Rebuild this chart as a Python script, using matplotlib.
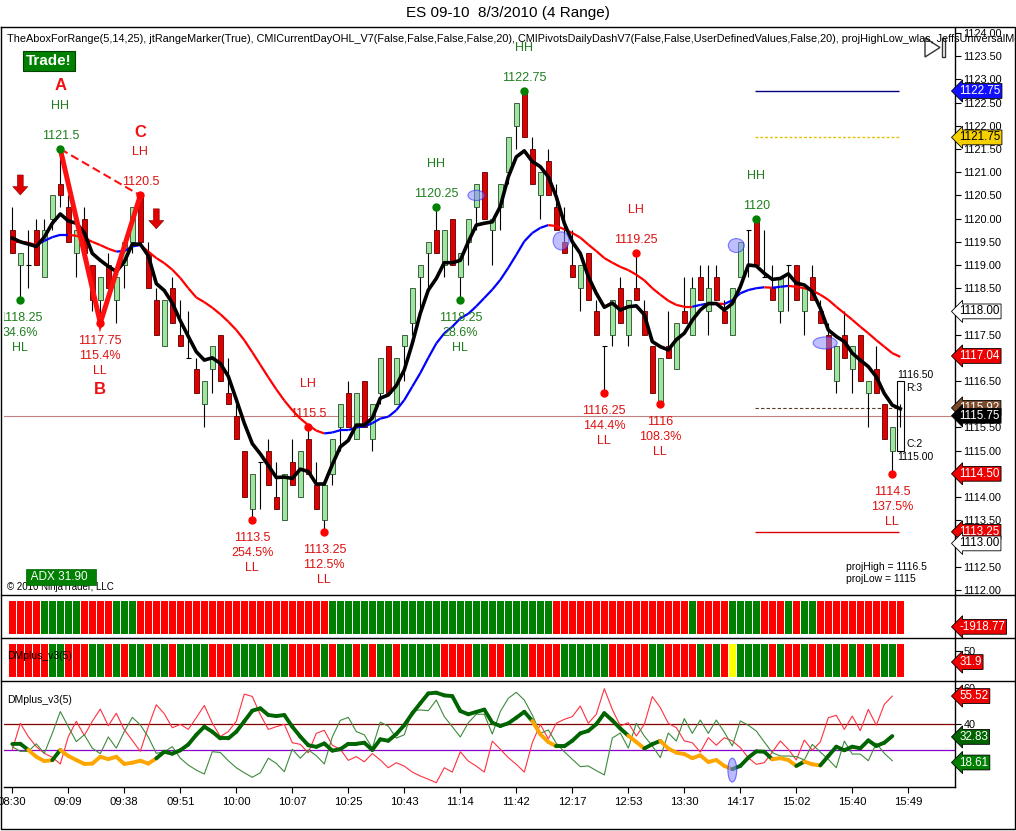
import numpy as np
import matplotlib
matplotlib.use("Agg")
import matplotlib.pyplot as plt
from matplotlib.patches import Rectangle, Ellipse, Polygon
from matplotlib.collections import LineCollection
from matplotlib.transforms import blended_transform_factory
from matplotlib.lines import Line2D

plt.rcParams['font.family'] = ['Liberation Sans', 'DejaVu Sans']

# ---------------- data ----------------
opens = [1119.75,1119.0,1119.0,1119.75,1118.75,1120.0,1120.75,1120.25,1119.25,1120.0,
         1119.0,1118.25,1119.0,1118.25,1119.0,1119.5,1120.5,1119.25,1118.25,1117.25,
         1118.5,1117.5,1117.0,1116.75,1116.0,1116.75,1117.5,1116.25,1115.75,1115.0,
         1113.75,1114.75,1115.0,1114.0,1113.5,1114.75,1114.0,1115.25,1114.25,1113.5,
         1114.5,1115.5,1116.25,1115.25,1116.5,1115.25,1116.25,1117.25,1116.0,1117.25,
         1117.75,1118.75,1119.25,1119.75,1119.0,1120.0,1118.75,1119.5,1120.25,1121.0,
         1119.75,1120.25,1121.0,1122.0,1122.75,1121.5,1120.5,1121.25,1120.25,1119.5,
         1119.0,1118.5,1119.25,1118.0,1117.25,1117.5,1118.5,1117.5,1118.5,1118.0,
         1117.25,1116.0,1117.25,1116.75,1118.0,1117.5,1118.75,1118.0,1118.75,1118.0,
         1117.5,1118.75,1119.75,1120.0,1118.75,1118.5,1118.0,1119.0,1119.0,1118.0,
         1118.75,1118.0,1117.5,1116.5,1117.5,1116.75,1117.5,1116.25,1116.75,1116.0,
         1115.0,1115.75]
highs = [1120.25,1119.25,1119.75,1120.0,1120.0,1120.5,1121.5,1120.5,1119.75,1120.25,
         1119.0,1118.75,1119.25,1119.0,1119.5,1120.25,1120.5,1119.5,1118.5,1118.25,
         1118.75,1118.25,1118.0,1117.0,1116.5,1117.25,1117.5,1117.0,1116.0,1115.0,
         1114.5,1114.75,1115.25,1114.75,1114.5,1115.25,1115.0,1115.5,1114.75,1114.25,
         1115.25,1116.0,1116.5,1116.25,1116.5,1116.0,1117.0,1117.25,1117.0,1117.5,
         1118.5,1119.0,1119.5,1120.25,1119.75,1120.0,1119.25,1120.0,1120.75,1121.0,
         1120.0,1120.75,1121.75,1122.5,1122.75,1121.75,1121.0,1121.5,1120.75,1120.25,
         1119.75,1119.0,1119.25,1118.25,1117.25,1118.25,1118.75,1118.25,1119.25,1118.25,
         1117.25,1117.0,1118.0,1117.75,1118.75,1118.75,1119.0,1119.0,1119.0,1118.25,
         1118.5,1119.5,1119.75,1120.0,1119.75,1119.0,1118.75,1119.0,1119.0,1118.5,
         1119.0,1118.25,1117.75,1117.25,1118.0,1117.25,1117.5,1116.5,1117.25,1116.0,
         1115.5,1116.0]
lows = [1119.25,1118.25,1118.5,1119.0,1118.75,1119.75,1120.25,1119.5,1118.75,1119.25,
        1118.0,1117.75,1118.5,1117.75,1118.5,1119.25,1119.5,1118.5,1117.5,1117.25,
        1117.75,1117.25,1117.0,1116.25,1115.5,1116.25,1116.5,1116.0,1115.25,1114.0,
        1113.5,1113.75,1114.25,1113.75,1113.5,1114.25,1114.0,1114.5,1113.75,1113.25,
        1114.25,1115.0,1115.5,1115.25,1115.5,1115.0,1116.0,1116.25,1116.0,1116.5,
        1117.5,1118.0,1118.5,1119.25,1118.75,1119.0,1118.25,1119.0,1119.75,1120.0,
        1119.0,1119.75,1120.75,1121.5,1121.75,1120.75,1120.0,1120.5,1119.75,1119.25,
        1118.75,1118.0,1118.25,1117.5,1116.25,1117.25,1117.75,1117.25,1118.25,1117.5,
        1116.25,1116.0,1117.0,1116.75,1117.75,1117.5,1118.25,1117.5,1118.25,1117.75,
        1117.5,1118.75,1118.75,1119.0,1118.75,1118.25,1117.75,1118.0,1118.25,1117.5,
        1118.25,1117.75,1116.75,1116.25,1117.0,1116.25,1116.5,1115.5,1116.25,1115.25,
        1114.5,1115.5]
closes = [1119.25,1119.25,1119.0,1119.0,1119.75,1120.5,1120.5,1119.5,1119.75,1119.25,
          1118.25,1118.75,1118.5,1118.75,1119.5,1120.25,1119.5,1118.5,1117.5,1118.25,
          1117.75,1117.25,1117.0,1116.25,1116.5,1117.25,1116.5,1116.0,1115.25,1114.0,
          1114.5,1114.75,1114.25,1113.75,1114.5,1114.25,1115.0,1114.5,1113.75,1114.25,
          1115.25,1116.0,1115.5,1116.25,1115.5,1116.0,1117.0,1116.25,1117.0,1117.5,
          1118.5,1119.0,1119.5,1119.25,1119.75,1119.0,1119.25,1120.0,1120.75,1120.0,
          1120.0,1120.75,1121.75,1122.5,1121.75,1120.75,1121.0,1120.5,1119.75,1119.25,
          1118.75,1119.0,1118.25,1117.5,1117.25,1118.25,1117.75,1118.25,1118.25,1117.5,
          1116.25,1117.0,1117.0,1117.75,1117.75,1118.5,1118.25,1118.5,1118.25,1117.75,
          1118.5,1119.5,1119.75,1119.0,1118.75,1118.25,1118.75,1119.0,1118.25,1118.5,
          1118.25,1117.75,1116.75,1117.25,1117.0,1117.25,1116.5,1116.5,1116.25,1115.25,
          1115.5,1115.75]

fast_ma = [1119.58,1119.5,1119.45,1119.4,1119.6,1119.9,1120.1,1119.95,1119.9,1119.7,
           1119.25,1119.1,1118.97,1118.86,1119.07,1119.45,1119.45,1119.2,1118.6,1118.45,
           1118.18,1117.8,1117.46,1117.13,1116.95,1117.0,1116.88,1116.6,1116.1,1115.59,
           1115.15,1114.93,1114.68,1114.42,1114.43,1114.4,1114.6,1114.55,1114.28,1114.28,
           1114.7,1115.08,1115.22,1115.55,1115.55,1115.7,1116.13,1116.2,1116.4,1116.74,
           1117.31,1117.96,1118.46,1118.71,1119.05,1119.05,1119.1,1119.5,1119.86,1119.9,
           1119.93,1120.26,1120.9,1121.33,1121.46,1121.23,1121.12,1120.9,1120.47,1119.9,
           1119.5,1119.25,1118.75,1118.39,1118.09,1118.18,1118.03,1118.1,1118.12,1117.93,
           1117.35,1117.24,1117.17,1117.39,1117.53,1117.81,1118.03,1118.17,1118.17,1118.03,
           1118.17,1118.53,1119.0,1118.98,1118.82,1118.69,1118.71,1118.81,1118.61,1118.57,
           1118.43,1118.07,1117.6,1117.46,1117.35,1117.1,1116.95,1116.81,1116.59,1116.23,
           1115.98,1115.9]
slow_ma = [1119.5,1119.5,1119.48,1119.43,1119.52,1119.6,1119.65,1119.65,1119.63,1119.58,
           1119.5,1119.43,1119.35,1119.29,1119.3,1119.4,1119.43,1119.29,1119.15,1119.04,
           1118.9,1118.72,1118.5,1118.3,1118.2,1118.08,1117.94,1117.78,1117.6,1117.38,
           1117.12,1116.85,1116.58,1116.32,1116.08,1115.87,1115.69,1115.55,1115.43,1115.37,
           1115.39,1115.44,1115.44,1115.5,1115.52,1115.59,1115.69,1115.73,1115.87,1116.09,
           1116.38,1116.67,1117.0,1117.31,1117.53,1117.67,1117.85,1117.95,1118.11,1118.29,
           1118.47,1118.68,1118.94,1119.22,1119.51,1119.69,1119.8,1119.86,1119.84,1119.77,
           1119.69,1119.59,1119.44,1119.3,1119.15,1119.05,1118.96,1118.89,1118.79,1118.67,
           1118.5,1118.36,1118.23,1118.14,1118.1,1118.1,1118.14,1118.17,1118.17,1118.16,
           1118.24,1118.39,1118.46,1118.5,1118.52,1118.51,1118.53,1118.55,1118.53,1118.5,
           1118.45,1118.36,1118.25,1118.1,1117.96,1117.82,1117.67,1117.53,1117.38,1117.24,
           1117.1,1117.02]

# oscillator (DMplus_v3)
adx = [28.9,29.0,25.6,21.8,19.4,19.9,25.6,22.2,20.0,17.8,18.0,21.8,20.5,21.8,17.8,18.5,
       19.6,18.0,20.9,24.6,23.5,25.4,28.6,34.0,38.5,35.7,32.0,32.0,35.7,41.5,47.4,48.7,
       45.0,44.4,45.0,38.5,33.0,28.2,27.3,29.2,25.2,26.0,29.0,29.0,29.6,25.6,31.5,30.7,
       34.4,39.4,45.9,51.5,57.0,57.4,55.9,55.5,47.2,45.4,46.7,48.0,40.7,38.9,40.4,43.5,
       46.8,41.7,34.3,30.0,27.6,27.6,30.7,34.8,36.2,39.9,46.0,42.0,37.5,33.5,30.0,26.4,
       28.8,30.6,26.4,24.1,23.3,21.0,22.6,18.9,20.0,16.7,14.9,16.7,21.3,24.8,24.6,20.4,
       21.0,20.0,16.7,19.1,17.6,17.0,22.2,27.4,25.4,27.4,26.5,30.9,27.8,29.6,33.3]
adx_orange = [3,4,5,7,8,9,10,11,12,13,14,15,16,17,18,66,67,68,78,79,
              82,83,84,85,86,87,88,89,90,96,97,98,100,101]
di_minus = [25.6,40.4,33.0,27.4,23.7,21.5,17.8,33.0,41.5,33.6,41.5,48.3,39.0,46.0,36.8,30.9,
            24.8,38.5,50.7,45.7,37.9,39.8,37.0,43.5,50.3,40.5,33.0,35.8,41.5,56.6,55.3,45.2,
            37.0,38.5,39.8,29.6,28.7,24.0,34.8,36.5,28.2,26.0,19.8,21.9,19.0,23.6,20.0,15.7,
            18.5,16.6,13.3,11.1,9.3,7.4,15.7,13.3,24.6,19.4,16.6,13.3,30.5,26.0,21.3,17.6,
            13.3,29.6,39.8,31.7,40.4,42.6,44.1,50.0,40.4,45.4,59.6,48.1,38.9,40.7,33.3,39.8,
            55.2,49.1,40.4,38.0,30.6,29.6,24.4,32.4,28.2,32.4,30.6,26.9,21.3,17.6,18.5,24.4,
            30.6,26.0,20.0,31.1,25.4,30.0,43.5,44.8,37.0,44.4,36.3,48.1,39.3,50.9,55.5]
di_plus = [27.4,24.8,24.8,29.0,23.7,34.8,46.9,38.5,30.2,34.0,26.6,23.5,32.8,26.6,35.8,43.7,
           39.5,32.8,23.7,24.6,27.4,21.0,17.2,14.4,12.2,24.6,24.2,19.6,15.7,12.9,10.4,12.9,
           21.0,18.1,13.5,26.0,21.0,25.6,22.4,17.8,32.8,42.0,43.7,35.8,34.0,26.6,41.0,38.8,
           32.2,34.0,47.4,47.8,47.4,53.3,44.1,38.5,32.8,40.7,45.4,45.4,34.4,46.9,54.3,57.6,
           53.3,45.0,34.8,36.7,29.3,24.6,20.4,16.3,16.7,14.1,11.7,32.2,35.0,26.6,40.4,33.3,
           27.8,21.3,35.0,30.5,43.0,34.8,42.2,34.8,42.2,35.5,27.8,41.7,39.3,36.1,30.0,24.1,
           22.2,22.2,21.9,20.0,28.7,24.4,20.4,15.7,30.5,23.3,23.3,19.6,29.3,23.7,19.6]

strip1_runs = ["RRRR", "GGGGG", "RRRR", "GGG", "RRRRRRRRRRRRRRRRRRRRRRRR",
               "GGGGGGGGGGGGGGGGGGGGGGGGGGGG", "RRRRRRRRRRRRRRRRR", "G", "RRRR",
               "GGGG", "RRR", "G", "R", "GG", "RRRRRRRRRRR"]
strip2_runs = ["RRRRR", "GG", "RRR", "GG", "R", "G", "R", "GG", "R", "GG", "R", "GGGG",
               "RRR", "GGGG", "R", "GG", "RRRR", "G", "R", "GG", "R", "G", "R", "GG", "R",
               "GGGGG", "RRRR", "GG", "RR", "GGG", "RRRR", "GGGGGG", "RRRRR", "GG", "RRRR",
               "G", "R", "G", "R", "Y", "GGGG", "R", "G", "RR", "G", "RR", "GG", "R", "G",
               "R", "G", "R", "GG", "R"]

time_labels = ["08:30", "09:09", "09:38", "09:51", "10:00", "10:07", "10:25", "10:43",
               "11:14", "11:42", "12:17", "12:53", "13:30", "14:17", "15:02", "15:40", "15:49"]
time_bars = [0, 7, 14, 21, 28, 35, 42, 49, 56, 63, 70, 77, 84, 91, 98, 105, 112]

# swing pivots
high_bars = [6, 16, 37, 53, 64, 78, 93]
high_prices = [1121.5, 1120.5, 1115.5, 1120.25, 1122.75, 1119.25, 1120.0]
high_texts = ["1121.5", "1120.5", "1115.5", "1120.25", "1122.75", "1119.25", "1120"]
high_tags = ["HH", "LH", "LH", "HH", "HH", "LH", "HH"]
low_bars = [1, 11, 30, 39, 56, 74, 81, 110]
low_prices = [1118.25, 1117.75, 1113.5, 1113.25, 1118.25, 1116.25, 1116.0, 1114.5]
low_texts = ["1118.25", "1117.75", "1113.5", "1113.25", "1118.25", "1116.25", "1116", "1114.5"]
low_pcts = ["34.6%", "115.4%", "254.5%", "112.5%", "28.6%", "144.4%", "108.3%", "137.5%"]
low_tags = ["HL", "LL", "LL", "LL", "HL", "LL", "LL", "LL"]

abc_bars = [6, 11, 16]
abc_prices = [1121.5, 1117.75, 1120.5]
abc_letters = ["A", "B", "C"]

arrow_bars = [1, 18]
arrow_tails = [1120.94, 1120.21]
arrow_tips = [1120.51, 1119.78]

oval_bars = [58, 68.6, 90.5, 101.6]
oval_prices = [1120.5, 1119.52, 1119.42, 1117.32]
oval_w = [2.1, 2.0, 2.0, 3.0]
oval_h = [0.22, 0.39, 0.30, 0.26]

proj_high, proj_low = 1116.5, 1115.0
level_start, level_end = 92.8, 110.8
level_blue, level_yellow, level_red, level_dash = 1122.75, 1121.75, 1113.25, 1115.92
last_price = 1115.75

price_tags = [(1122.75, "1122.75", "#1010ff", "white"),
              (1121.75, "1121.75", "#f5d000", "black"),
              (1118.00, "1118.00", "white", "black"),
              (1117.04, "1117.04", "#ee0000", "white"),
              (1115.92, "1115.92", "#7a4a2a", "white"),
              (1115.75, "1115.75", "black", "white"),
              (1114.50, "1114.50", "#ee0000", "white"),
              (1113.25, "1113.25", "#ee0000", "white"),
              (1113.00, "1113.00", "white", "black")]
hidden_ticks = [1113.0, 1114.5, 1116.0, 1117.0, 1118.0]
osc_tags = [(55.52, "55.52", "#ee0000", "white"),
            (32.83, "32.83", "#006400", "white"),
            (18.61, "18.61", "#008000", "white")]

# ---------------- layout ----------------
W, H = 1016, 831
fig = plt.figure(figsize=(W / 100, H / 100), dpi=100)
fig.patch.set_facecolor("white")

def rect(x0, y0, x1, y1):
    return [x0 / W, 1 - y1 / H, (x1 - x0) / W, (y1 - y0) / H]

def fx(x):
    return x / W

def fy(y):
    return 1 - y / H

PX_PER_PT = 46.4
XL = ((4 - 12.3) / 8, (955 - 12.3) / 8)

ax = fig.add_axes(rect(4, 28, 955, 595))
ax1 = fig.add_axes(rect(4, 595, 955, 638))
ax2 = fig.add_axes(rect(4, 638, 955, 681))
ax3 = fig.add_axes(rect(4, 681, 955, 787))

for a in (ax, ax1, ax2, ax3):
    a.set_xlim(*XL)
    a.set_facecolor("white")
    for s in ("left", "top", "bottom"):
        a.spines[s].set_visible(False)
    a.spines["right"].set_linewidth(1.0)
    a.yaxis.tick_right()
    a.tick_params(axis="y", length=4, width=0.8, pad=2, labelsize=7.8, direction="out")
    a.set_xticks([])

ax.set_ylim(1124 - (595 - 33) / PX_PER_PT, 1124 + (33 - 28) / PX_PER_PT)
ticks = np.arange(1112.0, 1124.01, 0.5)
ax.set_yticks(ticks)
ax.set_yticklabels(["" if any(abs(t - h) < 1e-6 for h in hidden_ticks) else f"{t:.2f}"
                    for t in ticks])

n = len(closes)
xs = np.arange(n)
GREEN_TXT = "#1f7f1f"
RED_TXT = "#dd1111"

# candles
for i in range(n):
    o, h, l, c = opens[i], highs[i], lows[i], closes[i]
    if i == n - 1:
        ax.vlines(i, l, h, color="black", lw=0.8, zorder=3)
        ax.hlines(c, i - 0.35, i, color="black", lw=0.8, zorder=3)
        continue
    ax.vlines(i, l, h, color="black", lw=0.8, zorder=3)
    if o == c:
        ax.hlines(o, i - 0.35, i + 0.35, color="black", lw=0.8, zorder=3)
    else:
        up = c > o
        ax.add_patch(Rectangle((i - 0.34, min(o, c)), 0.68, abs(c - o),
                               fc="#9ee69e" if up else "#e00000",
                               ec="#2a4a2a" if up else "#5a0000", lw=0.6, zorder=4))

# moving averages
ax.plot(xs, fast_ma, color="black", lw=2.6, zorder=6, solid_joinstyle="round")
segs, cols = [], []
cur = "#ff0000"
for i in range(1, n):
    if slow_ma[i] > slow_ma[i - 1]:
        cur = "#0000ff"
    elif slow_ma[i] < slow_ma[i - 1]:
        cur = "#ff0000"
    segs.append([(i - 1, slow_ma[i - 1]), (i, slow_ma[i])])
    cols.append(cur)
ax.add_collection(LineCollection(segs, colors=cols, linewidths=1.6, zorder=5))

# horizontal levels
ax.axhline(last_price, color="#c08080", lw=0.8, zorder=2)
ax.hlines(level_blue, level_start, level_end, color="#000080", lw=1.0, zorder=2)
ax.hlines(level_yellow, level_start, level_end, color="#e8c000", lw=1.0, ls=(0, (2, 1.5)), zorder=2)
ax.hlines(level_red, level_start, level_end, color="#dd0000", lw=1.0, zorder=2)
ax.hlines(level_dash, level_start, level_end, color="#5a3a20", lw=0.8, ls=(0, (3, 2)), zorder=2)

# projected box
ax.add_patch(Rectangle((n - 1 - 0.42, proj_low), 0.9, proj_high - proj_low,
                       fill=False, ec="black", lw=0.8, zorder=7))
ax.annotate("1116.50", (n - 1 - 0.42, proj_high), xytext=(0, 1), textcoords="offset pixels",
            ha="left", va="bottom", fontsize=7.5, zorder=8)
ax.annotate("R:3", (n - 1 + 0.5, proj_high), xytext=(2, -7), textcoords="offset pixels",
            ha="left", va="center", fontsize=7.5, zorder=8)
ax.annotate("C:2", (n - 1 + 0.5, proj_low), xytext=(2, 7), textcoords="offset pixels",
            ha="left", va="center", fontsize=7.5, zorder=8)
ax.annotate("1115.00", (n - 1 - 0.42, proj_low), xytext=(0, -1), textcoords="offset pixels",
            ha="left", va="top", fontsize=7.5, zorder=8)

# ABC pattern
ax.plot(abc_bars, abc_prices, color="#ff1010", lw=3.6, zorder=7, solid_joinstyle="miter")
ax.plot([abc_bars[0], abc_bars[2]], [abc_prices[0], abc_prices[2]], color="#ff1010",
        lw=1.5, ls=(0, (4, 2)), zorder=7)
for b, p, letter, off in zip(abc_bars, abc_prices, abc_letters, (64, -66, 63)):
    ax.annotate(letter, (b, p), xytext=(0, off), textcoords="offset pixels",
                ha="center", va="center", fontsize=12, fontweight="bold", color="#ee1111", zorder=8)

# pivots
for b, p, t, tg in zip(high_bars, high_prices, high_texts, high_tags):
    col = GREEN_TXT if tg == "HH" else RED_TXT
    dcol = "#008000" if tg == "HH" else "#ff0000"
    ax.plot([b], [p], "o", ms=5, color=dcol, zorder=9)
    for txt, off in ((t, 13), (tg, 43)):
        ax.annotate(txt, (b, p), xytext=(0, off), textcoords="offset pixels", ha="center",
                    va="center", fontsize=9, color=col, zorder=9, clip_on=True)
for b, p, t, pc, tg in zip(low_bars, low_prices, low_texts, low_pcts, low_tags):
    col = GREEN_TXT if tg == "HL" else RED_TXT
    dcol = "#008000" if tg == "HL" else "#ff0000"
    ax.plot([b], [p], "o", ms=5, color=dcol, zorder=9)
    for txt, off in ((t, -18), (pc, -33), (tg, -48)):
        ax.annotate(txt, (b, p), xytext=(0, off), textcoords="offset pixels", ha="center",
                    va="center", fontsize=9, color=col, zorder=9, clip_on=True)

# arrows
for b, t0, t1 in zip(arrow_bars, arrow_tails, arrow_tips):
    ax.annotate("", xy=(b, t1), xytext=(b, t0),
                arrowprops=dict(arrowstyle="simple,head_length=0.5,head_width=0.9,tail_width=0.35",
                                fc="#e00000", ec="#800000", lw=0.4, mutation_scale=12,
                                shrinkA=0, shrinkB=0), zorder=8)

# ovals
for b, p, w, h in zip(oval_bars, oval_prices, oval_w, oval_h):
    ax.add_patch(Ellipse((b, p), w, h, fc="#8c8cff", ec="#2020ff", alpha=0.55, lw=0.8, zorder=8))

# text inside main panel
ax.text(842 / 951, (595 - 567) / 567, "projHigh = 1116.5", transform=ax.transAxes,
        fontsize=7.5, va="center", ha="left")
ax.text(842 / 951, (595 - 579) / 567, "projLow = 1115", transform=ax.transAxes,
        fontsize=7.5, va="center", ha="left")
ax.text(3 / 951, (595 - 587) / 567, "\u00a9 2010 NinjaTrader, LLC", transform=ax.transAxes,
        fontsize=7, va="center", ha="left", zorder=9)
ax.text(24 / 951, (595 - 577) / 567, " ADX 31.90  ", transform=ax.transAxes, fontsize=8.5,
        va="center", ha="left", color="white", zorder=10,
        bbox=dict(boxstyle="square,pad=0.15", fc="#008000", ec="#006000", lw=0.5))

# price tags on the right axis
def tag(a, y, text, fc, tc):
    tr = blended_transform_factory(a.transAxes, a.transData)
    a.text(1.0045, y, text, transform=tr, ha="left", va="center", fontsize=8.4, color=tc,
           clip_on=False, zorder=20,
           bbox=dict(boxstyle="larrow,pad=0.12", fc=fc, ec="black", lw=0.6))

for p, t, fc, tc in price_tags:
    tag(ax, p, t, fc, tc)

# strips
codes = {"R": "#ff0000", "G": "#008000", "Y": "#ffff00"}
strip1 = "".join(strip1_runs)
strip2 = "".join(strip2_runs)
for a, s in ((ax1, strip1), (ax2, strip2)):
    a.set_ylim(0, 1)
    a.bar(np.arange(len(s)), 0.77, bottom=0.093, width=0.86,
          color=[codes[c] for c in s], linewidth=0)
    a.set_yticks([])
tr1 = blended_transform_factory(ax1.transAxes, ax1.transAxes)
ax1.text(1.0045, 0.26, "-1918.77", transform=tr1, ha="left", va="center", fontsize=8.4,
         color="white", clip_on=False, zorder=20,
         bbox=dict(boxstyle="larrow,pad=0.12", fc="#ee0000", ec="black", lw=0.6))
ax2.set_yticks([0.70])
ax2.set_yticklabels(["50"])
tr2 = blended_transform_factory(ax2.transAxes, ax2.transAxes)
ax2.text(1.0045, 0.44, "31.9", transform=tr2, ha="left", va="center", fontsize=8.4,
         color="white", clip_on=False, zorder=20,
         bbox=dict(boxstyle="larrow,pad=0.12", fc="#ee0000", ec="black", lw=0.6))
ax2.text(3 / 951, 0.58, "DMplus_v3(5)", transform=ax2.transAxes, fontsize=7.5, va="center")

# oscillator
ax3.set_ylim(40 - (787 - 724) / 1.8, 40 + (724 - 681) / 1.8)
ax3.axhline(40, color="#800000", lw=0.9, zorder=1)
ax3.axhline(25.5, color="#8a00c8", lw=0.9, zorder=1)
m = len(adx)
ox = np.arange(m)
ax3.plot(ox, di_minus, color="#ff3040", lw=0.8, zorder=2)
ax3.plot(ox, di_plus, color="#3d8a3d", lw=0.8, zorder=2)
segs, cols = [], []
for i in range(1, m):
    segs.append([(i - 1, adx[i - 1]), (i, adx[i])])
    cols.append("#ffa500" if i in adx_orange else "#006400")
ax3.add_collection(LineCollection(segs, colors=cols, linewidths=2.8, zorder=3,
                                  capstyle="round", joinstyle="round"))
ax3.add_patch(Ellipse((90, 14.4), 1.1, 13.3, fc="#8c8cff", ec="#2020ff", alpha=0.6, lw=0.8, zorder=5))
ax3.set_yticks([40, 60])
ax3.set_yticklabels(["40", "60"])
for v, t, fc, tc in osc_tags:
    tag(ax3, v, t, fc, tc)
ax3.text(3 / 951, 0.82, "DMplus_v3(5)", transform=ax3.transAxes, fontsize=7.5, va="center")
ax3.spines["bottom"].set_visible(True)
ax3.spines["bottom"].set_linewidth(1.0)
ax3.set_xticks(time_bars)
ax3.set_xticklabels(time_labels)
ax3.tick_params(axis="x", length=4, width=0.8, pad=3, labelsize=8.2, direction="out")

# figure-level text and frame
fig.text(fx(508), fy(13), "ES 09-10  8/3/2010 (4 Range)", ha="center", va="center", fontsize=11)
fig.text(fx(7), fy(39), "TheAboxForRange(5,14,25), jtRangeMarker(True), CMICurrentDayOHL_V7(False,False,False,False,20), "
         "CMIPivotsDailyDashV7(False,False,UserDefinedValues,False,20), projHighLow_wlas, JeffsUniversalMo",
         ha="left", va="center", fontsize=7.8, zorder=30)
fig.text(fx(26), fy(61), "Trade!", ha="left", va="center", fontsize=11, fontweight="bold",
         color="white", bbox=dict(boxstyle="square,pad=0.2", fc="#008000", ec="#004000", lw=0.8))

frame = dict(transform=fig.transFigure, color="black", lw=1.0)
fig.add_artist(Line2D([fx(1), fx(1015), fx(1015), fx(1), fx(1)],
                      [fy(27), fy(27), fy(829), fy(829), fy(27)], **frame))
for yy in (595, 638, 681):
    fig.add_artist(Line2D([fx(1), fx(1015)], [fy(yy), fy(yy)], **frame))

# play icon
fig.add_artist(Polygon([[fx(925), fy(38)], [fx(925), fy(57)], [fx(940), fy(47.5)]],
                       closed=True, fill=False, ec="#333333", lw=1.0, transform=fig.transFigure))
fig.add_artist(Polygon([[fx(942), fy(38)], [fx(945), fy(38)], [fx(945), fy(57)], [fx(942), fy(57)]],
                       closed=True, fill=False, ec="#333333", lw=1.0, transform=fig.transFigure))

fig.savefig("out.png", dpi=100, facecolor="white")
